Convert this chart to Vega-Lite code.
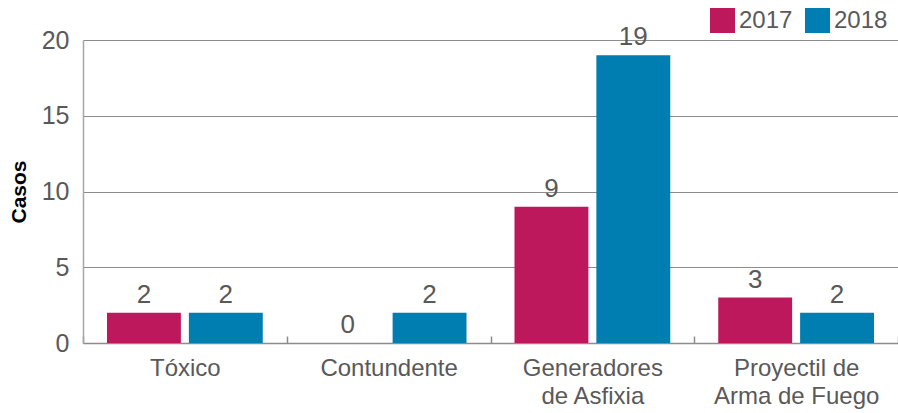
{
  "$schema": "https://vega.github.io/schema/vega-lite/v6.json",
  "width": 815,
  "height": 303,
  "autosize": {"type": "none"},
  "padding": {"left": 83, "top": 40, "right": 0, "bottom": 70},
  "background": "white",
  "config": {
    "font": "Liberation Sans",
    "view": {"stroke": null},
    "axisY": {
      "titleFontSize": 21,
      "titleFontWeight": "bold",
      "titleColor": "#000000",
      "titlePadding": 12
    }
  },
  "data": {
    "values": [
      {"categoria": "Tóxico", "anio": "2017", "casos": 2},
      {"categoria": "Tóxico", "anio": "2018", "casos": 2},
      {"categoria": "Contundente", "anio": "2017", "casos": 0},
      {"categoria": "Contundente", "anio": "2018", "casos": 2},
      {"categoria": "Generadores de Asfixia", "anio": "2017", "casos": 9},
      {"categoria": "Generadores de Asfixia", "anio": "2018", "casos": 19},
      {"categoria": "Proyectil de Arma de Fuego", "anio": "2017", "casos": 3},
      {"categoria": "Proyectil de Arma de Fuego", "anio": "2018", "casos": 2}
    ]
  },
  "encoding": {
    "x": {
      "field": "categoria",
      "type": "nominal",
      "sort": null,
      "scale": {"paddingInner": 0, "paddingOuter": 0},
      "axis": {
        "title": null,
        "labelAngle": 0,
        "labelFontSize": 24,
        "labelColor": "#595959",
        "labelPadding": 20,
        "labelLineHeight": 28,
        "labelBaseline": "top",
        "ticks": true,
        "tickBand": "extent",
        "tickSize": -7,
        "tickWidth": 1.5,
        "tickColor": "#8c8c8c",
        "domainColor": "#8c8c8c",
        "domainWidth": 1.5,
        "labelExpr": "datum.label == 'Generadores de Asfixia' ? ['Generadores', 'de Asfixia'] : datum.label == 'Proyectil de Arma de Fuego' ? ['Proyectil de', 'Arma de Fuego'] : datum.label"
      }
    },
    "xOffset": {
      "field": "anio",
      "type": "nominal",
      "scale": {"paddingInner": 0.0976, "paddingOuter": 0.293}
    },
    "y": {
      "field": "casos",
      "type": "quantitative",
      "scale": {"domain": [0, 20]},
      "axis": {
        "title": "Casos",
        "values": [0, 5, 10, 15, 20],
        "labelFontSize": 25,
        "labelColor": "#595959",
        "labelPadding": 14,
        "ticks": false,
        "domainColor": "#a6a6a6",
        "domainWidth": 1.5,
        "gridColor": "#8c8c8c"
      }
    }
  },
  "layer": [
    {
      "mark": {"type": "bar"},
      "encoding": {
        "color": {
          "field": "anio",
          "type": "nominal",
          "scale": {"domain": ["2017", "2018"], "range": ["#BE185D", "#007DB1"]},
          "legend": {
            "title": null,
            "orient": "none",
            "direction": "horizontal",
            "legendX": 627,
            "legendY": -32,
            "symbolType": "square",
            "symbolSize": 625,
            "symbolStrokeWidth": 0,
            "labelFontSize": 24,
            "labelColor": "#595959",
            "labelOffset": 4,
            "columnPadding": 12
          }
        }
      }
    },
    {
      "mark": {"type": "text", "baseline": "bottom", "dy": -5, "fontSize": 26, "color": "#595959"},
      "encoding": {"text": {"field": "casos", "type": "quantitative"}}
    }
  ]
}
